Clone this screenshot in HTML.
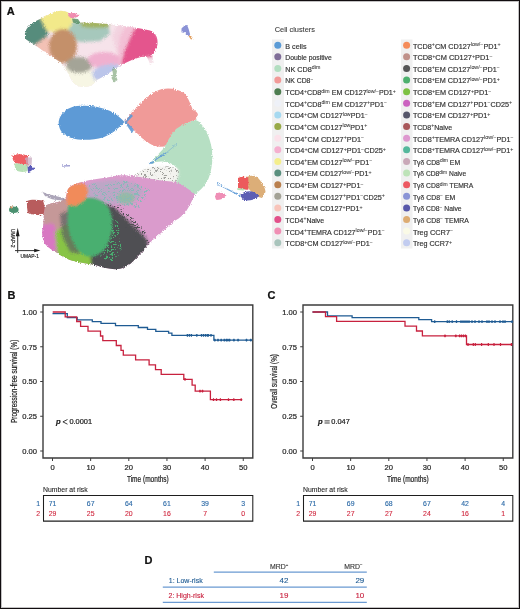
<!DOCTYPE html>
<html><head><meta charset="utf-8"><style>
html,body{margin:0;padding:0;background:#fff;}
#wrap{position:relative;width:520px;height:609px;overflow:hidden;background:#fff;}
#frame{position:absolute;left:0;top:0;width:520px;height:609px;box-sizing:border-box;border:1px solid #110d0f;box-shadow:inset 0 0 0 1px rgba(17,13,15,0.25);pointer-events:none;}
svg{position:absolute;left:0;top:0;font-family:"Liberation Sans", sans-serif;will-change:transform;}
</style></head><body><div id="wrap">
<svg width="520" height="609" viewBox="0 0 520 609">
<defs>
<filter id="bl3" x="-20%" y="-20%" width="140%" height="140%"><feGaussianBlur stdDeviation="3"/></filter>
<filter id="bl15" x="-20%" y="-20%" width="140%" height="140%"><feGaussianBlur stdDeviation="1.6"/></filter>
<filter id="bl1" x="-20%" y="-20%" width="140%" height="140%"><feGaussianBlur stdDeviation="1"/></filter>
<filter id="grain" x="0" y="0" width="100%" height="100%" filterUnits="userSpaceOnUse"><feTurbulence type="fractalNoise" baseFrequency="0.9" numOctaves="1" seed="3" result="n"/><feDisplacementMap in="SourceGraphic" in2="n" scale="3.5" xChannelSelector="R" yChannelSelector="G"/></filter>
<filter id="speck" x="-10%" y="-10%" width="120%" height="120%"><feTurbulence type="fractalNoise" baseFrequency="1.7" numOctaves="1" seed="11" result="n"/><feColorMatrix in="n" type="matrix" values="0 0 0 0 0  0 0 0 0 0  0 0 0 0 0  0 0 0 -16 7.0" result="m"/><feComposite in="SourceGraphic" in2="m" operator="in"/></filter>
<filter id="bl05" x="-20%" y="-20%" width="140%" height="140%"><feGaussianBlur stdDeviation="0.4"/></filter>
</defs>
<g filter="url(#grain)"><clipPath id="c1"><path d="M25,36 C24,30 30,23 40,19 L52,13 C58,10 64,10 69,13 L73,17 L80,22.5 C90,22.5 100,23 110,24.3 C122,25.5 138,28 150,30.5 C156,32.5 158,38 157.5,44 C157,49 155,52 152,54 L153.5,62 L150,64 L147,57 L141,57 C130,60 120,65 112,71 C106,75 101,78 97,80 C94,84 90,87 85,87 C79,87 75,85 72,81 C69,76 67,70 63,65 C58,60 52,57 45,52 C38,47 30,42 27,40 C25,39 25,38 25,36 Z"/></clipPath><g clip-path="url(#c1)"><rect x="20" y="5" width="145" height="90" fill="#f6e3ea"/><g filter="url(#bl15)"><path d="M118,24 L152,28 L160,40 L156,56 L140,60 L124,62 L116,50 L112,36Z" fill="#f3d3e0"/><path d="M120,36 L126,26 L134,26 L150,28 L160,40 L157,56 L142,58 L130,63 L116,68 L118,54Z" fill="#f3c0d5"/><path d="M136,26 L152,28 L160,40 L157,56 L142,58 L128,64 L121,66 L124,52 L130,38Z" fill="#e4558d"/><path d="M68,27 L75,21 L108,24 L110,34 L100,41 L80,42 L70,37Z" fill="#a6c8bc"/><path d="M80,21 L110,22 L108,27.5 L92,28 L82,27Z" fill="#a2b35e"/><path d="M20,36 L24,24 L34,17 L42,16 L47,24 L48,34 L45,42 L38,46 L24,42Z" fill="#568c7c"/><path d="M40,17 L52,10 L64,8 L72,12 L73,22 L68,30 L56,32 L47,31 L43,24Z" fill="#f2e98a"/><path d="M35,45 L46,37 L54,42 L56,55 L53,63 L42,57Z" fill="#f3c1b5"/><ellipse cx="63" cy="46" rx="14" ry="17" fill="#c4906a"/><path d="M60,66 L75,69 L96,71 L100,80 L92,90 L80,90 L70,84 L62,74Z" fill="#f7f6e4"/><ellipse cx="79" cy="65" rx="13" ry="8" fill="#a4a497"/><ellipse cx="104" cy="60" rx="16" ry="8" fill="#f0b0cf"/><path d="M92,72 L100,66 L112,64 L120,65 L118,72 L104,80 L94,80Z" fill="#bbc5ea"/></g></g><path d="M68,14 C71,12 76,13 80,15 C79,17 75,18 71,18 C69,17 68,16 68,14 Z" fill="#f08cb0" filter="url(#bl05)"/><path d="M72,18.5 L78,19 L80,22 L78,24 L73,22.5Z" fill="#4e8a5a" opacity="0.75" filter="url(#bl05)"/><path d="M112,69 L115,67.5 L117,71 L116,76 L117.5,80 L114,82.5 L111.5,78 L113,74Z" fill="#6f9a6a" opacity="0.6" filter="url(#bl05)"/><path d="M181.5,28.5 C183,27 185,25 186.5,25 C188,26 189,30 190.2,34.6 L188.8,36.2 C187,35 186,33 185,33 C183,32.5 182,33 181.5,32.3 Z" fill="#8a92d6" filter="url(#bl05)"/><path d="M189.3,35 L192.5,39 L191,39.5 L188.8,36.5Z" fill="#e2a060" filter="url(#bl05)"/><path d="M58.7,121.5 C60,113 68,107 77,106 C87,105 97,106 105,109 C112,111 119,116 124.5,122 C119,128 112,134 103,137.5 C95,140 85,140 78,139.5 C70,138.5 64,135 61,131 C59,128 58.5,124 58.7,121.5 Z" fill="#5d9ad6" filter="url(#bl05)"/><path d="M124.5,122 C128,116 134,110 140,104 C147,97 154,91 162,89 C170,87.5 178,89 184,93 C188,97 190,103 192.5,109 C195,111 198,112 198,115.5 C197.5,118 195,120 192,121 C185,124 180,127 176,131 C172,136 170,141 168,145.7 C163,147 158,147 154,146 C148,143 142,139 138,134 C134,130 130,127 124.5,122 Z" fill="#f09a98" filter="url(#bl05)"/><path d="M124.5,122 L131,114 L133,116 L127,122 L134,130 L132,133 Z" fill="#5d9ad6" opacity="0.9" filter="url(#bl05)"/><path d="M192,121 C196,119 199,121 202,125 C207,131 210.5,140 212,150 C213,160 212,170 208,180 C204,187 199,192 193,195.5 C188,198 183,198 180,195 C176,191 172,186 170,181 C172,176 176,172 178,170 C176,166 172,163 166,162 C160,161 155,162 150,163.5 C155,158 160,152 165,147 C168,140 172,133 176,129 C182,125 187,123 192,121 Z" fill="#b6dfc3" filter="url(#bl05)"/><path d="M150,163.5 L158,158 L166,153" stroke="#5d9ad6" stroke-width="1.2" fill="none" opacity="0.9"/><path d="M166,153 L172,148 L178,143" stroke="#5d9ad6" stroke-width="0.8" fill="none" opacity="0.5"/><path d="M134,177 C138,172 146,168 155,166.5 C163,165.5 171,166 178,169 C180,174 178,180 174,184 C166,186 156,185.5 148,183.5 C141,182 137,180 134,177 Z" fill="#f3f3ef" filter="url(#bl1)"/><path d="M134,177 C138,172 146,168 155,166.5 C163,165.5 171,166 178,169 C180,174 178,180 174,184 C166,186 156,185.5 148,183.5 C141,182 137,180 134,177 Z" fill="#a0a09c" filter="url(#speck)"/><clipPath id="c2"><path d="M68,189 C72,184 80,182 90,180 L110,177 C116,175.5 122,175 128,175.5 C134,176 140,177 146,178 C156,180 166,181 176,182 C184,186 190,190 195,194 C192,201 189,207 186,211.5 C183,215 180,218 175.7,220.2 C170,225 166,228 161.9,232.3 C156,237 152,241 148,244.4 C145,248 143,251 141,253 C137,257 134,261 130.8,263.4 C127,266 124,268 120,268.8 C112,270 104,268 97,265.5 C90,264 82,263 74.6,261.5 C67,259 61,256 57.3,252.9 C50,249 45,245 43.5,240.7 C42,236 42,231 43,227 C43.5,220 44,214 44.5,208 C46,204 52,203 58,202 C62,201 65,199 66,197 C66.5,194 67,191 68,189 Z"/></clipPath><g clip-path="url(#c2)"><rect x="38" y="170" width="160" height="105" fill="#da9bcc"/><g filter="url(#bl15)"><ellipse cx="113" cy="192" rx="30" ry="12" fill="#bda6c6"/><ellipse cx="126" cy="198" rx="9" ry="6" fill="#95baa6"/><path d="M40,198 L67,196 L70,212 L66,232 L44,232Z" fill="#c59898"/><path d="M38,226 L53,223 L60,238 L63,262 L40,262Z" fill="#d878c2"/><path d="M55,232 L66,224 L88,228 L98,250 L96,272 L64,272 L57,254Z" fill="#88c444"/><path d="M100,203 L114,207 L130,222 L146,238 L150,250 L138,266 L118,274 L92,272 L90,250 L96,226Z" fill="#505052"/><path d="M60,214 L70,210 L78,232 L80,254 L70,252 L62,236Z" fill="#5d6462" opacity="0.75"/><ellipse cx="104" cy="210" rx="5" ry="4" fill="#707072"/></g><g filter="url(#bl1)"><path d="M68,204 C70,198 80,197 92,198 C102,199 109,205 111.5,215 C114,230 110,245 101,253 C94,258 86,258 80,252 C73,245 68,234 67.5,220 Z" fill="#4aaf70"/><path d="M66,190 C68,185 74,183 80,183 C85,183 88,187 88,192 L85,200 L76,206 L67,205 Z" fill="#f18b5a"/></g><path d="M104,212 L118,222 L122,250 L112,262 L100,258 L106,240Z" fill="#4aaf70" filter="url(#speck)"/><path d="M104,200 L120,206 L146,232 L150,244 L140,240 L120,222Z" fill="#505052" filter="url(#speck)"/><path d="M88,184 L130,180 L150,190 L140,208 L110,204 L95,196Z" fill="#88b8b8" filter="url(#speck)"/></g><path d="M27,201 C30,199.5 36,199.5 43,200.5 L45,207 L43.5,215 C38,215.5 32,214.5 28,213.5 C27,209 26.8,205 27,201 Z" fill="#b85b5d" filter="url(#bl05)"/><path d="M42.5,192 C48,194 55,196 62,197.5 L66,200 C58,201 50,199.5 45,196 Z" fill="#9890a8" opacity="0.8" filter="url(#bl05)"/><ellipse cx="13.8" cy="209.8" rx="4.8" ry="3.3" fill="#4c9170" filter="url(#bl05)"/><ellipse cx="12" cy="207.5" rx="1.6" ry="1" fill="#e89060"/><path d="M12.3,155.5 C15,154 20,154 24,154.5 L28,156 L28,165 C24,164 19,163.5 14.6,163.5 C13,160 12.3,158 12.3,155.5Z" fill="#ef5f63" filter="url(#bl05)"/><path d="M14.6,163.5 C19,163.5 24,164 28,165 L27.5,171 C24,172.5 19,172 16,170.5 C15,168 14.6,166 14.6,163.5Z" fill="#b7e0b5" filter="url(#bl05)"/><path d="M25.8,157.3 L32,157.5 L31.5,165.5 L28,166 L26,163Z" fill="#c8aac0" opacity="0.75" filter="url(#bl05)"/><path d="M27.5,166.5 L30.5,165.8 L32.5,167.6 L36.5,168.3 L33,169.4 L30,171.6 L28,172Z" fill="#5a5ab8" filter="url(#bl05)"/><path d="M62,166 L70,165.8" stroke="#5555b0" stroke-width="0.8"/><path d="M215.5,195 C216.5,192.5 220,192 222,193 C224.5,192.5 226,194.5 225,196.5 C223,199 220,200 216.5,200 C215.2,198.5 215,197 215.5,195Z" fill="#ef8fb6" filter="url(#bl05)"/><path d="M217,183.5 L228,189.5 L240.8,196.1" stroke="#5d9ad6" stroke-width="1.2" fill="none" opacity="0.9"/><path d="M246.5,177 C250,175.5 255,175 257,177 C261,181 265,186 265.5,192 L262,198 L255,196 L248,188 Z" fill="#dcae78" filter="url(#bl05)"/><path d="M238,178 C241,176.5 245,176.5 248.3,177.5 L248.3,189.8 L243,189.5 L238,188 Z" fill="#ec5a5c" filter="url(#bl05)"/><path d="M240.8,194 C245,191 250,190.5 254,192 L259.2,196 C256,199.5 250,201 245,200.5 C242,199.5 240.8,197 240.8,194Z" fill="#5d5fb4" filter="url(#bl05)"/><path d="M237.3,188 L244.2,189 L244,190.5 L237.3,190Z" fill="#b7e0b5"/></g><g stroke="#2a2a2a" stroke-width="0.95" fill="none"><path d="M17.7,252.9 L17.7,233"/><path d="M15,250.6 L36,250.6"/></g><path d="M17.7,227.8 L15.8,236.3 L19.6,236.3Z" fill="#1a1a1a"/><path d="M40.4,250.6 L34.2,248.85 L34.2,252.35Z" fill="#1a1a1a"/><text x="0" y="0" transform="translate(10.8,228.9) rotate(90)" font-size="5.1" fill="#333" textLength="18.6" lengthAdjust="spacingAndGlyphs" stroke="#333" stroke-width="0.22">UMAP-2</text><text x="20.6" y="257.9" font-size="5.1" fill="#333" textLength="18.3" lengthAdjust="spacingAndGlyphs" stroke="#333" stroke-width="0.22">UMAP-1</text><text x="274.7" y="31.9" font-size="7.4" fill="#3a3a3a" stroke="#3a3a3a" stroke-width="0.1">Cell clusters</text><rect x="272" y="39.5" width="12" height="209" fill="#f0f0f0"/><rect x="401" y="39.5" width="11.5" height="209" fill="#f0f0f0"/><circle cx="277.8" cy="45.20" r="3.5" fill="#5b9bd6"/><text id="a0" x="285.3" y="48.60" font-size="6.85" fill="#333" stroke="#333" stroke-width="0.17" textLength="21.20" lengthAdjust="spacingAndGlyphs">B cells</text><circle cx="277.8" cy="56.82" r="3.5" fill="#806e98"/><text id="a1" x="285.3" y="60.22" font-size="6.85" fill="#333" stroke="#333" stroke-width="0.17" textLength="46.40" lengthAdjust="spacingAndGlyphs">Double positive</text><circle cx="277.8" cy="68.44" r="3.5" fill="#b2dec0"/><text id="a2" x="285.3" y="71.84" font-size="6.85" fill="#333" stroke="#333" stroke-width="0.17" textLength="35.01" lengthAdjust="spacingAndGlyphs">NK CD8<tspan dy="-2.50" font-size="5.00" stroke-width="0.05">dim</tspan></text><circle cx="277.8" cy="80.06" r="3.5" fill="#f29a98"/><text id="a3" x="285.3" y="83.46" font-size="6.85" fill="#333" stroke="#333" stroke-width="0.17" textLength="28.03" lengthAdjust="spacingAndGlyphs">NK CD8<tspan dy="-2.50" font-size="5.00" stroke-width="0.05">−</tspan></text><circle cx="277.8" cy="91.68" r="3.5" fill="#4e7d50"/><text id="a4" x="285.3" y="95.08" font-size="6.85" fill="#333" stroke="#333" stroke-width="0.17" textLength="110.60" lengthAdjust="spacingAndGlyphs">TCD4<tspan dy="-2.50" font-size="5.00" stroke-width="0.05">+</tspan><tspan dy="2.50">CD8</tspan><tspan dy="-2.50" font-size="5.00" stroke-width="0.05">dim</tspan><tspan dy="2.50"> EM CD127</tspan><tspan dy="-2.50" font-size="5.00" stroke-width="0.05">low/−</tspan><tspan dy="2.50">PD1</tspan><tspan dy="-2.50" font-size="5.00" stroke-width="0.05">+</tspan></text><circle cx="277.8" cy="103.30" r="3.5" fill="#eef1f8"/><text id="a5" x="285.3" y="106.70" font-size="6.85" fill="#333" stroke="#333" stroke-width="0.17" textLength="101.71" lengthAdjust="spacingAndGlyphs">TCD4<tspan dy="-2.50" font-size="5.00" stroke-width="0.05">+</tspan><tspan dy="2.50">CD8</tspan><tspan dy="-2.50" font-size="5.00" stroke-width="0.05">dim</tspan><tspan dy="2.50"> EM CD127</tspan><tspan dy="-2.50" font-size="5.00" stroke-width="0.05">+</tspan><tspan dy="2.50">PD1</tspan><tspan dy="-2.50" font-size="5.00" stroke-width="0.05">−</tspan></text><circle cx="277.8" cy="114.92" r="3.5" fill="#a6d9f0"/><text id="a6" x="285.3" y="118.32" font-size="6.85" fill="#333" stroke="#333" stroke-width="0.17" textLength="82.44" lengthAdjust="spacingAndGlyphs">TCD4<tspan dy="-2.50" font-size="5.00" stroke-width="0.05">+</tspan><tspan dy="2.50">CM CD127</tspan><tspan dy="-2.50" font-size="5.00" stroke-width="0.05">low</tspan><tspan dy="2.50">PD1</tspan><tspan dy="-2.50" font-size="5.00" stroke-width="0.05">−</tspan></text><circle cx="277.8" cy="126.54" r="3.5" fill="#98aa48"/><text id="a7" x="285.3" y="129.94" font-size="6.85" fill="#333" stroke="#333" stroke-width="0.17" textLength="82.05" lengthAdjust="spacingAndGlyphs">TCD4<tspan dy="-2.50" font-size="5.00" stroke-width="0.05">+</tspan><tspan dy="2.50">CM CD127</tspan><tspan dy="-2.50" font-size="5.00" stroke-width="0.05">low</tspan><tspan dy="2.50">PD1</tspan><tspan dy="-2.50" font-size="5.00" stroke-width="0.05">+</tspan></text><circle cx="277.8" cy="138.16" r="3.5" fill="#fbe2ea"/><text id="a8" x="285.3" y="141.56" font-size="6.85" fill="#333" stroke="#333" stroke-width="0.17" textLength="78.83" lengthAdjust="spacingAndGlyphs">TCD4<tspan dy="-2.50" font-size="5.00" stroke-width="0.05">+</tspan><tspan dy="2.50">CM CD127</tspan><tspan dy="-2.50" font-size="5.00" stroke-width="0.05">+</tspan><tspan dy="2.50">PD1</tspan><tspan dy="-2.50" font-size="5.00" stroke-width="0.05">−</tspan></text><circle cx="277.8" cy="149.78" r="3.5" fill="#f5b0cf"/><text id="a9" x="285.3" y="153.18" font-size="6.85" fill="#333" stroke="#333" stroke-width="0.17" textLength="100.67" lengthAdjust="spacingAndGlyphs">TCD4<tspan dy="-2.50" font-size="5.00" stroke-width="0.05">+</tspan><tspan dy="2.50">CM CD127</tspan><tspan dy="-2.50" font-size="5.00" stroke-width="0.05">+</tspan><tspan dy="2.50">PD1</tspan><tspan dy="-2.50" font-size="5.00" stroke-width="0.05">−</tspan><tspan dy="2.50">CD25</tspan><tspan dy="-2.50" font-size="5.00" stroke-width="0.05">+</tspan></text><circle cx="277.8" cy="161.40" r="3.5" fill="#f4ee8c"/><text id="a10" x="285.3" y="164.80" font-size="6.85" fill="#333" stroke="#333" stroke-width="0.17" textLength="86.96" lengthAdjust="spacingAndGlyphs">TCD4<tspan dy="-2.50" font-size="5.00" stroke-width="0.05">+</tspan><tspan dy="2.50">EM CD127</tspan><tspan dy="-2.50" font-size="5.00" stroke-width="0.05">low/−</tspan><tspan dy="2.50">PD1</tspan><tspan dy="-2.50" font-size="5.00" stroke-width="0.05">−</tspan></text><circle cx="277.8" cy="173.02" r="3.5" fill="#5a8f7e"/><text id="a11" x="285.3" y="176.42" font-size="6.85" fill="#333" stroke="#333" stroke-width="0.17" textLength="86.16" lengthAdjust="spacingAndGlyphs">TCD4<tspan dy="-2.50" font-size="5.00" stroke-width="0.05">+</tspan><tspan dy="2.50">EM CD127</tspan><tspan dy="-2.50" font-size="5.00" stroke-width="0.05">low/−</tspan><tspan dy="2.50">PD1</tspan><tspan dy="-2.50" font-size="5.00" stroke-width="0.05">+</tspan></text><circle cx="277.8" cy="184.64" r="3.5" fill="#b9804f"/><text id="a12" x="285.3" y="188.04" font-size="6.85" fill="#333" stroke="#333" stroke-width="0.17" textLength="78.28" lengthAdjust="spacingAndGlyphs">TCD4<tspan dy="-2.50" font-size="5.00" stroke-width="0.05">+</tspan><tspan dy="2.50">EM CD127</tspan><tspan dy="-2.50" font-size="5.00" stroke-width="0.05">+</tspan><tspan dy="2.50">PD1</tspan><tspan dy="-2.50" font-size="5.00" stroke-width="0.05">−</tspan></text><circle cx="277.8" cy="196.26" r="3.5" fill="#a3a296"/><text id="a13" x="285.3" y="199.66" font-size="6.85" fill="#333" stroke="#333" stroke-width="0.17" textLength="99.67" lengthAdjust="spacingAndGlyphs">TCD4<tspan dy="-2.50" font-size="5.00" stroke-width="0.05">+</tspan><tspan dy="2.50">EM CD127</tspan><tspan dy="-2.50" font-size="5.00" stroke-width="0.05">+</tspan><tspan dy="2.50">PD1</tspan><tspan dy="-2.50" font-size="5.00" stroke-width="0.05">−</tspan><tspan dy="2.50">CD25</tspan><tspan dy="-2.50" font-size="5.00" stroke-width="0.05">+</tspan></text><circle cx="277.8" cy="207.88" r="3.5" fill="#f8c4ba"/><text id="a14" x="285.3" y="211.28" font-size="6.85" fill="#333" stroke="#333" stroke-width="0.17" textLength="77.28" lengthAdjust="spacingAndGlyphs">TCD4<tspan dy="-2.50" font-size="5.00" stroke-width="0.05">+</tspan><tspan dy="2.50">EM CD127</tspan><tspan dy="-2.50" font-size="5.00" stroke-width="0.05">+</tspan><tspan dy="2.50">PD1</tspan><tspan dy="-2.50" font-size="5.00" stroke-width="0.05">+</tspan></text><circle cx="277.8" cy="219.50" r="3.5" fill="#e2508a"/><text id="a15" x="285.3" y="222.90" font-size="6.85" fill="#333" stroke="#333" stroke-width="0.17" textLength="38.92" lengthAdjust="spacingAndGlyphs">TCD4<tspan dy="-2.50" font-size="5.00" stroke-width="0.05">+</tspan><tspan dy="2.50">Naive</tspan></text><circle cx="277.8" cy="231.12" r="3.5" fill="#f08fb4"/><text id="a16" x="285.3" y="234.52" font-size="6.85" fill="#333" stroke="#333" stroke-width="0.17" textLength="99.47" lengthAdjust="spacingAndGlyphs">TCD4<tspan dy="-2.50" font-size="5.00" stroke-width="0.05">+</tspan><tspan dy="2.50">TEMRA CD127</tspan><tspan dy="-2.50" font-size="5.00" stroke-width="0.05">low/−</tspan><tspan dy="2.50">PD1</tspan><tspan dy="-2.50" font-size="5.00" stroke-width="0.05">−</tspan></text><circle cx="277.8" cy="242.74" r="3.5" fill="#a9c4bc"/><text id="a17" x="285.3" y="246.14" font-size="6.85" fill="#333" stroke="#333" stroke-width="0.17" textLength="87.57" lengthAdjust="spacingAndGlyphs">TCD8<tspan dy="-2.50" font-size="5.00" stroke-width="0.05">+</tspan><tspan dy="2.50">CM CD127</tspan><tspan dy="-2.50" font-size="5.00" stroke-width="0.05">low/−</tspan><tspan dy="2.50">PD1</tspan><tspan dy="-2.50" font-size="5.00" stroke-width="0.05">−</tspan></text><circle cx="406.6" cy="45.20" r="3.5" fill="#f58c5a"/><text id="b0" x="412.9" y="48.60" font-size="6.85" fill="#333" stroke="#333" stroke-width="0.17" textLength="87.77" lengthAdjust="spacingAndGlyphs">TCD8<tspan dy="-2.50" font-size="5.00" stroke-width="0.05">+</tspan><tspan dy="2.50">CM CD127</tspan><tspan dy="-2.50" font-size="5.00" stroke-width="0.05">low/−</tspan><tspan dy="2.50">PD1</tspan><tspan dy="-2.50" font-size="5.00" stroke-width="0.05">+</tspan></text><circle cx="406.6" cy="56.82" r="3.5" fill="#c0918a"/><text id="b1" x="412.9" y="60.22" font-size="6.85" fill="#333" stroke="#333" stroke-width="0.17" textLength="79.70" lengthAdjust="spacingAndGlyphs">TCD8<tspan dy="-2.50" font-size="5.00" stroke-width="0.05">+</tspan><tspan dy="2.50">CM CD127</tspan><tspan dy="-2.50" font-size="5.00" stroke-width="0.05">+</tspan><tspan dy="2.50">PD1</tspan><tspan dy="-2.50" font-size="5.00" stroke-width="0.05">−</tspan></text><circle cx="406.6" cy="68.44" r="3.5" fill="#555556"/><text id="b2" x="412.9" y="71.84" font-size="6.85" fill="#333" stroke="#333" stroke-width="0.17" textLength="86.96" lengthAdjust="spacingAndGlyphs">TCD8<tspan dy="-2.50" font-size="5.00" stroke-width="0.05">+</tspan><tspan dy="2.50">EM CD127</tspan><tspan dy="-2.50" font-size="5.00" stroke-width="0.05">low/−</tspan><tspan dy="2.50">PD1</tspan><tspan dy="-2.50" font-size="5.00" stroke-width="0.05">−</tspan></text><circle cx="406.6" cy="80.06" r="3.5" fill="#4db06e"/><text id="b3" x="412.9" y="83.46" font-size="6.85" fill="#333" stroke="#333" stroke-width="0.17" textLength="86.96" lengthAdjust="spacingAndGlyphs">TCD8<tspan dy="-2.50" font-size="5.00" stroke-width="0.05">+</tspan><tspan dy="2.50">EM CD127</tspan><tspan dy="-2.50" font-size="5.00" stroke-width="0.05">low/−</tspan><tspan dy="2.50">PD1</tspan><tspan dy="-2.50" font-size="5.00" stroke-width="0.05">+</tspan></text><circle cx="406.6" cy="91.68" r="3.5" fill="#7cc142"/><text id="b4" x="412.9" y="95.08" font-size="6.85" fill="#333" stroke="#333" stroke-width="0.17" textLength="78.49" lengthAdjust="spacingAndGlyphs">TCD8<tspan dy="-2.50" font-size="5.00" stroke-width="0.05">+</tspan><tspan dy="2.50">EM CD127</tspan><tspan dy="-2.50" font-size="5.00" stroke-width="0.05">+</tspan><tspan dy="2.50">PD1</tspan><tspan dy="-2.50" font-size="5.00" stroke-width="0.05">−</tspan></text><circle cx="406.6" cy="103.30" r="3.5" fill="#cb62c0"/><text id="b5" x="412.9" y="106.70" font-size="6.85" fill="#333" stroke="#333" stroke-width="0.17" textLength="99.33" lengthAdjust="spacingAndGlyphs">TCD8<tspan dy="-2.50" font-size="5.00" stroke-width="0.05">+</tspan><tspan dy="2.50">EM CD127</tspan><tspan dy="-2.50" font-size="5.00" stroke-width="0.05">+</tspan><tspan dy="2.50">PD1</tspan><tspan dy="-2.50" font-size="5.00" stroke-width="0.05">−</tspan><tspan dy="2.50">CD25</tspan><tspan dy="-2.50" font-size="5.00" stroke-width="0.05">+</tspan></text><circle cx="406.6" cy="114.92" r="3.5" fill="#56566a"/><text id="b6" x="412.9" y="118.32" font-size="6.85" fill="#333" stroke="#333" stroke-width="0.17" textLength="77.48" lengthAdjust="spacingAndGlyphs">TCD8<tspan dy="-2.50" font-size="5.00" stroke-width="0.05">+</tspan><tspan dy="2.50">EM CD127</tspan><tspan dy="-2.50" font-size="5.00" stroke-width="0.05">+</tspan><tspan dy="2.50">PD1</tspan><tspan dy="-2.50" font-size="5.00" stroke-width="0.05">+</tspan></text><circle cx="406.6" cy="126.54" r="3.5" fill="#a8575a"/><text id="b7" x="412.9" y="129.94" font-size="6.85" fill="#333" stroke="#333" stroke-width="0.17" textLength="39.31" lengthAdjust="spacingAndGlyphs">TCD8<tspan dy="-2.50" font-size="5.00" stroke-width="0.05">+</tspan><tspan dy="2.50">Naive</tspan></text><circle cx="406.6" cy="138.16" r="3.5" fill="#de98cf"/><text id="b8" x="412.9" y="141.56" font-size="6.85" fill="#333" stroke="#333" stroke-width="0.17" textLength="100.67" lengthAdjust="spacingAndGlyphs">TCD8<tspan dy="-2.50" font-size="5.00" stroke-width="0.05">+</tspan><tspan dy="2.50">TEMRA CD127</tspan><tspan dy="-2.50" font-size="5.00" stroke-width="0.05">low/−</tspan><tspan dy="2.50">PD1</tspan><tspan dy="-2.50" font-size="5.00" stroke-width="0.05">−</tspan></text><circle cx="406.6" cy="149.78" r="3.5" fill="#55b89c"/><text id="b9" x="412.9" y="153.18" font-size="6.85" fill="#333" stroke="#333" stroke-width="0.17" textLength="100.48" lengthAdjust="spacingAndGlyphs">TCD8<tspan dy="-2.50" font-size="5.00" stroke-width="0.05">+</tspan><tspan dy="2.50">TEMRA CD127</tspan><tspan dy="-2.50" font-size="5.00" stroke-width="0.05">low/−</tspan><tspan dy="2.50">PD1</tspan><tspan dy="-2.50" font-size="5.00" stroke-width="0.05">+</tspan></text><circle cx="406.6" cy="161.40" r="3.5" fill="#c9a8b8"/><text id="b10" x="412.9" y="164.80" font-size="6.85" fill="#333" stroke="#333" stroke-width="0.17" textLength="47.25" lengthAdjust="spacingAndGlyphs">Tγδ CD8<tspan dy="-2.50" font-size="5.00" stroke-width="0.05">dim</tspan><tspan dy="2.50"> EM</tspan></text><circle cx="406.6" cy="173.02" r="3.5" fill="#bde3b8"/><text id="b11" x="412.9" y="176.42" font-size="6.85" fill="#333" stroke="#333" stroke-width="0.17" textLength="53.28" lengthAdjust="spacingAndGlyphs">Tγδ CD8<tspan dy="-2.50" font-size="5.00" stroke-width="0.05">dim</tspan><tspan dy="2.50"> Naive</tspan></text><circle cx="406.6" cy="184.64" r="3.5" fill="#ec5962"/><text id="b12" x="412.9" y="188.04" font-size="6.85" fill="#333" stroke="#333" stroke-width="0.17" textLength="60.41" lengthAdjust="spacingAndGlyphs">Tγδ CD8<tspan dy="-2.50" font-size="5.00" stroke-width="0.05">dim</tspan><tspan dy="2.50"> TEMRA</tspan></text><circle cx="406.6" cy="196.26" r="3.5" fill="#8a94d6"/><text id="b13" x="412.9" y="199.66" font-size="6.85" fill="#333" stroke="#333" stroke-width="0.17" textLength="42.31" lengthAdjust="spacingAndGlyphs">Tγδ CD8<tspan dy="-2.50" font-size="5.00" stroke-width="0.05">−</tspan><tspan dy="2.50"> EM</tspan></text><circle cx="406.6" cy="207.88" r="3.5" fill="#5858aa"/><text id="b14" x="412.9" y="211.28" font-size="6.85" fill="#333" stroke="#333" stroke-width="0.17" textLength="48.74" lengthAdjust="spacingAndGlyphs">Tγδ CD8<tspan dy="-2.50" font-size="5.00" stroke-width="0.05">−</tspan><tspan dy="2.50"> Naive</tspan></text><circle cx="406.6" cy="219.50" r="3.5" fill="#ddac72"/><text id="b15" x="412.9" y="222.90" font-size="6.85" fill="#333" stroke="#333" stroke-width="0.17" textLength="55.87" lengthAdjust="spacingAndGlyphs">Tγδ CD8<tspan dy="-2.50" font-size="5.00" stroke-width="0.05">−</tspan><tspan dy="2.50"> TEMRA</tspan></text><circle cx="406.6" cy="231.12" r="3.5" fill="#fafae6"/><text id="b16" x="412.9" y="234.52" font-size="6.85" fill="#333" stroke="#333" stroke-width="0.17" textLength="40.31" lengthAdjust="spacingAndGlyphs">Treg CCR7<tspan dy="-2.50" font-size="5.00" stroke-width="0.05">−</tspan></text><circle cx="406.6" cy="242.74" r="3.5" fill="#c2ccf0"/><text id="b17" x="412.9" y="246.14" font-size="6.85" fill="#333" stroke="#333" stroke-width="0.17" textLength="39.10" lengthAdjust="spacingAndGlyphs">Treg CCR7<tspan dy="-2.50" font-size="5.00" stroke-width="0.05">+</tspan></text><text x="6.8" y="15.3" font-size="11" font-weight="bold" fill="#111" stroke="#111" stroke-width="0.22">A</text><text x="7.5" y="298.8" font-size="11" font-weight="bold" fill="#111" stroke="#111" stroke-width="0.22">B</text><text x="267.5" y="298.8" font-size="11" font-weight="bold" fill="#111" stroke="#111" stroke-width="0.22">C</text><text x="144.5" y="563.8" font-size="11" font-weight="bold" fill="#111" stroke="#111" stroke-width="0.22">D</text><path d="M43,305 H252.8 V458.0 H43 Z" fill="none" stroke="#3d3d3d" stroke-width="1.4"/><path d="M40.2,451.0 L43,451.0" stroke="#3d3d3d" stroke-width="1"/><text x="37.0" y="453.90" font-size="7.6" fill="#2a2a2a" text-anchor="end" stroke="#2a2a2a" stroke-width="0.22">0.00</text><path d="M40.2,416.25 L43,416.25" stroke="#3d3d3d" stroke-width="1"/><text x="37.0" y="419.15" font-size="7.6" fill="#2a2a2a" text-anchor="end" stroke="#2a2a2a" stroke-width="0.22">0.25</text><path d="M40.2,381.5 L43,381.5" stroke="#3d3d3d" stroke-width="1"/><text x="37.0" y="384.40" font-size="7.6" fill="#2a2a2a" text-anchor="end" stroke="#2a2a2a" stroke-width="0.22">0.50</text><path d="M40.2,346.75 L43,346.75" stroke="#3d3d3d" stroke-width="1"/><text x="37.0" y="349.65" font-size="7.6" fill="#2a2a2a" text-anchor="end" stroke="#2a2a2a" stroke-width="0.22">0.75</text><path d="M40.2,312.0 L43,312.0" stroke="#3d3d3d" stroke-width="1"/><text x="37.0" y="314.90" font-size="7.6" fill="#2a2a2a" text-anchor="end" stroke="#2a2a2a" stroke-width="0.22">1.00</text><path d="M52.50,458.0 L52.50,461.0" stroke="#3d3d3d" stroke-width="1"/><text x="52.50" y="469.6" font-size="7.6" fill="#2a2a2a" text-anchor="middle" stroke="#2a2a2a" stroke-width="0.22">0</text><path d="M90.65,458.0 L90.65,461.0" stroke="#3d3d3d" stroke-width="1"/><text x="90.65" y="469.6" font-size="7.6" fill="#2a2a2a" text-anchor="middle" stroke="#2a2a2a" stroke-width="0.22">10</text><path d="M128.80,458.0 L128.80,461.0" stroke="#3d3d3d" stroke-width="1"/><text x="128.80" y="469.6" font-size="7.6" fill="#2a2a2a" text-anchor="middle" stroke="#2a2a2a" stroke-width="0.22">20</text><path d="M166.95,458.0 L166.95,461.0" stroke="#3d3d3d" stroke-width="1"/><text x="166.95" y="469.6" font-size="7.6" fill="#2a2a2a" text-anchor="middle" stroke="#2a2a2a" stroke-width="0.22">30</text><path d="M205.10,458.0 L205.10,461.0" stroke="#3d3d3d" stroke-width="1"/><text x="205.10" y="469.6" font-size="7.6" fill="#2a2a2a" text-anchor="middle" stroke="#2a2a2a" stroke-width="0.22">40</text><path d="M243.25,458.0 L243.25,461.0" stroke="#3d3d3d" stroke-width="1"/><text x="243.25" y="469.6" font-size="7.6" fill="#2a2a2a" text-anchor="middle" stroke="#2a2a2a" stroke-width="0.22">50</text><text x="147.85" y="482.4" font-size="8.7" fill="#1e1e1e" text-anchor="middle" textLength="41.9" lengthAdjust="spacingAndGlyphs" stroke="#1e1e1e" stroke-width="0.22">Time (months)</text><text x="0" y="0" font-size="9.0" fill="#1e1e1e" text-anchor="middle" transform="translate(16.9,381.4) rotate(-90)" textLength="83.4" lengthAdjust="spacingAndGlyphs" stroke="#1e1e1e" stroke-width="0.22">Progression-free survival (%)</text><text x="56.0" y="423.5" font-size="7.6" fill="#1e1e1e" font-weight="bold" font-style="italic" stroke="#1e1e1e" stroke-width="0.22">p</text><path d="M67.5,419.5 L62.9,421.85 L67.5,424.2" fill="none" stroke="#1e1e1e" stroke-width="0.85"/><text x="69.4" y="423.5" font-size="7.4" fill="#1e1e1e" stroke="#1e1e1e" stroke-width="0.22">0.0001</text><path d="M52.5,313.6 H67.3 V317.6 H77.2 V319.8 H92.3 V321.7 H101 V323.4 H115.5 V325.6 H138.3 V327.5 H147.5 V329.4 H155.8 V331.3 H168.6 V333.1 H171.9 V335.4 H213.9 V340.2 H252.2 V340.2" fill="none" stroke="#1f5b93" stroke-width="1.3" stroke-linejoin="miter"/><path d="M187.4,334.0 V336.79999999999995 M186.3,335.4 H188.5" stroke="#1f5b93" stroke-width="1.2"/><path d="M189.4,334.0 V336.79999999999995 M188.3,335.4 H190.5" stroke="#1f5b93" stroke-width="1.2"/><path d="M191.4,334.0 V336.79999999999995 M190.3,335.4 H192.5" stroke="#1f5b93" stroke-width="1.2"/><path d="M196.8,334.0 V336.79999999999995 M195.70000000000002,335.4 H197.9" stroke="#1f5b93" stroke-width="1.2"/><path d="M201.5,334.0 V336.79999999999995 M200.4,335.4 H202.6" stroke="#1f5b93" stroke-width="1.2"/><path d="M203.5,334.0 V336.79999999999995 M202.4,335.4 H204.6" stroke="#1f5b93" stroke-width="1.2"/><path d="M205.5,334.0 V336.79999999999995 M204.4,335.4 H206.6" stroke="#1f5b93" stroke-width="1.2"/><path d="M207.3,334.0 V336.79999999999995 M206.20000000000002,335.4 H208.4" stroke="#1f5b93" stroke-width="1.2"/><path d="M208.3,334.0 V336.79999999999995 M207.20000000000002,335.4 H209.4" stroke="#1f5b93" stroke-width="1.2"/><path d="M211,334.0 V336.79999999999995 M209.9,335.4 H212.1" stroke="#1f5b93" stroke-width="1.2"/><path d="M214.8,338.8 V341.59999999999997 M213.70000000000002,340.2 H215.9" stroke="#1f5b93" stroke-width="1.2"/><path d="M218,338.8 V341.59999999999997 M216.9,340.2 H219.1" stroke="#1f5b93" stroke-width="1.2"/><path d="M221.2,338.8 V341.59999999999997 M220.1,340.2 H222.29999999999998" stroke="#1f5b93" stroke-width="1.2"/><path d="M224.3,338.8 V341.59999999999997 M223.20000000000002,340.2 H225.4" stroke="#1f5b93" stroke-width="1.2"/><path d="M226.4,338.8 V341.59999999999997 M225.3,340.2 H227.5" stroke="#1f5b93" stroke-width="1.2"/><path d="M227.9,338.8 V341.59999999999997 M226.8,340.2 H229.0" stroke="#1f5b93" stroke-width="1.2"/><path d="M229.6,338.8 V341.59999999999997 M228.5,340.2 H230.7" stroke="#1f5b93" stroke-width="1.2"/><path d="M233.9,338.8 V341.59999999999997 M232.8,340.2 H235.0" stroke="#1f5b93" stroke-width="1.2"/><path d="M238.1,338.8 V341.59999999999997 M237.0,340.2 H239.2" stroke="#1f5b93" stroke-width="1.2"/><path d="M246.5,338.8 V341.59999999999997 M245.4,340.2 H247.6" stroke="#1f5b93" stroke-width="1.2"/><path d="M250.8,338.8 V341.59999999999997 M249.70000000000002,340.2 H251.9" stroke="#1f5b93" stroke-width="1.2"/><path d="M52.7,312.0 H65.2 V316.8 H76.7 V321.5 H80.6 V326.4 H88 V331.1 H100.5 V336.0 H102.8 V340.7 H116.3 V345.5 H121 V350.3 H123.3 V355.1 H135.6 V359.9 H149.1 V364.8 H155.5 V369.6 H161.2 V374.4 H183.8 V379.4 H192.1 V385.2 H195.2 V391.2 H210.4 V399.7 H241.9 V399.7" fill="none" stroke="#c8213e" stroke-width="1.3" stroke-linejoin="miter"/><path d="M185,378.0 V380.79999999999995 M183.9,379.4 H186.1" stroke="#c8213e" stroke-width="1.2"/><path d="M200,389.8 V392.59999999999997 M198.9,391.2 H201.1" stroke="#c8213e" stroke-width="1.2"/><path d="M202.5,389.8 V392.59999999999997 M201.4,391.2 H203.6" stroke="#c8213e" stroke-width="1.2"/><path d="M213.5,398.3 V401.09999999999997 M212.4,399.7 H214.6" stroke="#c8213e" stroke-width="1.2"/><path d="M216.5,398.3 V401.09999999999997 M215.4,399.7 H217.6" stroke="#c8213e" stroke-width="1.2"/><path d="M220.4,398.3 V401.09999999999997 M219.3,399.7 H221.5" stroke="#c8213e" stroke-width="1.2"/><path d="M228.5,398.3 V401.09999999999997 M227.4,399.7 H229.6" stroke="#c8213e" stroke-width="1.2"/><path d="M233.8,398.3 V401.09999999999997 M232.70000000000002,399.7 H234.9" stroke="#c8213e" stroke-width="1.2"/><path d="M241.2,398.3 V401.09999999999997 M240.1,399.7 H242.29999999999998" stroke="#c8213e" stroke-width="1.2"/><text x="43.1" y="491.5" font-size="6.85" fill="#1e1e1e" stroke="#1e1e1e" stroke-width="0.1">Number at risk</text><path d="M43.5,495.5 H252.8 V521.1 H43.5 Z" fill="none" stroke="#1e1e1e" stroke-width="1.05"/><text x="38.1" y="505.8" font-size="6.9" fill="#2a68a6" text-anchor="middle" stroke="#2a68a6" stroke-width="0.12">1</text><text x="38.1" y="516.3" font-size="6.9" fill="#d02a40" text-anchor="middle" stroke="#d02a40" stroke-width="0.12">2</text><text x="52.50" y="505.8" font-size="6.9" fill="#2a68a6" text-anchor="middle" stroke="#2a68a6" stroke-width="0.12">71</text><text x="52.50" y="516.3" font-size="6.9" fill="#d02a40" text-anchor="middle" stroke="#d02a40" stroke-width="0.12">29</text><text x="90.65" y="505.8" font-size="6.9" fill="#2a68a6" text-anchor="middle" stroke="#2a68a6" stroke-width="0.12">67</text><text x="90.65" y="516.3" font-size="6.9" fill="#d02a40" text-anchor="middle" stroke="#d02a40" stroke-width="0.12">25</text><text x="128.80" y="505.8" font-size="6.9" fill="#2a68a6" text-anchor="middle" stroke="#2a68a6" stroke-width="0.12">64</text><text x="128.80" y="516.3" font-size="6.9" fill="#d02a40" text-anchor="middle" stroke="#d02a40" stroke-width="0.12">20</text><text x="166.95" y="505.8" font-size="6.9" fill="#2a68a6" text-anchor="middle" stroke="#2a68a6" stroke-width="0.12">61</text><text x="166.95" y="516.3" font-size="6.9" fill="#d02a40" text-anchor="middle" stroke="#d02a40" stroke-width="0.12">16</text><text x="205.10" y="505.8" font-size="6.9" fill="#2a68a6" text-anchor="middle" stroke="#2a68a6" stroke-width="0.12">39</text><text x="205.10" y="516.3" font-size="6.9" fill="#d02a40" text-anchor="middle" stroke="#d02a40" stroke-width="0.12">7</text><text x="243.25" y="505.8" font-size="6.9" fill="#2a68a6" text-anchor="middle" stroke="#2a68a6" stroke-width="0.12">3</text><text x="243.25" y="516.3" font-size="6.9" fill="#d02a40" text-anchor="middle" stroke="#d02a40" stroke-width="0.12">0</text><path d="M303,305 H512.8 V458.0 H303 Z" fill="none" stroke="#3d3d3d" stroke-width="1.4"/><path d="M300.2,451.0 L303,451.0" stroke="#3d3d3d" stroke-width="1"/><text x="297.0" y="453.90" font-size="7.6" fill="#2a2a2a" text-anchor="end" stroke="#2a2a2a" stroke-width="0.22">0.00</text><path d="M300.2,416.25 L303,416.25" stroke="#3d3d3d" stroke-width="1"/><text x="297.0" y="419.15" font-size="7.6" fill="#2a2a2a" text-anchor="end" stroke="#2a2a2a" stroke-width="0.22">0.25</text><path d="M300.2,381.5 L303,381.5" stroke="#3d3d3d" stroke-width="1"/><text x="297.0" y="384.40" font-size="7.6" fill="#2a2a2a" text-anchor="end" stroke="#2a2a2a" stroke-width="0.22">0.50</text><path d="M300.2,346.75 L303,346.75" stroke="#3d3d3d" stroke-width="1"/><text x="297.0" y="349.65" font-size="7.6" fill="#2a2a2a" text-anchor="end" stroke="#2a2a2a" stroke-width="0.22">0.75</text><path d="M300.2,312.0 L303,312.0" stroke="#3d3d3d" stroke-width="1"/><text x="297.0" y="314.90" font-size="7.6" fill="#2a2a2a" text-anchor="end" stroke="#2a2a2a" stroke-width="0.22">1.00</text><path d="M312.50,458.0 L312.50,461.0" stroke="#3d3d3d" stroke-width="1"/><text x="312.50" y="469.6" font-size="7.6" fill="#2a2a2a" text-anchor="middle" stroke="#2a2a2a" stroke-width="0.22">0</text><path d="M350.65,458.0 L350.65,461.0" stroke="#3d3d3d" stroke-width="1"/><text x="350.65" y="469.6" font-size="7.6" fill="#2a2a2a" text-anchor="middle" stroke="#2a2a2a" stroke-width="0.22">10</text><path d="M388.80,458.0 L388.80,461.0" stroke="#3d3d3d" stroke-width="1"/><text x="388.80" y="469.6" font-size="7.6" fill="#2a2a2a" text-anchor="middle" stroke="#2a2a2a" stroke-width="0.22">20</text><path d="M426.95,458.0 L426.95,461.0" stroke="#3d3d3d" stroke-width="1"/><text x="426.95" y="469.6" font-size="7.6" fill="#2a2a2a" text-anchor="middle" stroke="#2a2a2a" stroke-width="0.22">30</text><path d="M465.10,458.0 L465.10,461.0" stroke="#3d3d3d" stroke-width="1"/><text x="465.10" y="469.6" font-size="7.6" fill="#2a2a2a" text-anchor="middle" stroke="#2a2a2a" stroke-width="0.22">40</text><path d="M503.25,458.0 L503.25,461.0" stroke="#3d3d3d" stroke-width="1"/><text x="503.25" y="469.6" font-size="7.6" fill="#2a2a2a" text-anchor="middle" stroke="#2a2a2a" stroke-width="0.22">50</text><text x="407.85" y="482.4" font-size="8.7" fill="#1e1e1e" text-anchor="middle" textLength="41.9" lengthAdjust="spacingAndGlyphs" stroke="#1e1e1e" stroke-width="0.22">Time (months)</text><text x="0" y="0" font-size="9.0" fill="#1e1e1e" text-anchor="middle" transform="translate(276.9,381.4) rotate(-90)" textLength="54.5" lengthAdjust="spacingAndGlyphs" stroke="#1e1e1e" stroke-width="0.22">Overall survival (%)</text><text x="317.9" y="423.5" font-size="7.6" fill="#1e1e1e" font-weight="bold" font-style="italic" stroke="#1e1e1e" stroke-width="0.22">p</text><path d="M324.5,420.9 H329.7 M324.5,423.0 H329.7" fill="none" stroke="#1e1e1e" stroke-width="0.85"/><text x="331.3" y="423.5" font-size="7.4" fill="#1e1e1e" stroke="#1e1e1e" stroke-width="0.22">0.047</text><path d="M312.5,312.0 H327.5 V315.9 H352.1 V317.7 H418.8 V319.6 H431.6 V321.6 H512.4 V321.6" fill="none" stroke="#1f5b93" stroke-width="1.3" stroke-linejoin="miter"/><path d="M434.7,320.20000000000005 V323.0 M433.59999999999997,321.6 H435.8" stroke="#1f5b93" stroke-width="1.2"/><path d="M447.3,320.20000000000005 V323.0 M446.2,321.6 H448.40000000000003" stroke="#1f5b93" stroke-width="1.2"/><path d="M449.2,320.20000000000005 V323.0 M448.09999999999997,321.6 H450.3" stroke="#1f5b93" stroke-width="1.2"/><path d="M452.2,320.20000000000005 V323.0 M451.09999999999997,321.6 H453.3" stroke="#1f5b93" stroke-width="1.2"/><path d="M456.5,320.20000000000005 V323.0 M455.4,321.6 H457.6" stroke="#1f5b93" stroke-width="1.2"/><path d="M461,320.20000000000005 V323.0 M459.9,321.6 H462.1" stroke="#1f5b93" stroke-width="1.2"/><path d="M463,320.20000000000005 V323.0 M461.9,321.6 H464.1" stroke="#1f5b93" stroke-width="1.2"/><path d="M465,320.20000000000005 V323.0 M463.9,321.6 H466.1" stroke="#1f5b93" stroke-width="1.2"/><path d="M467,320.20000000000005 V323.0 M465.9,321.6 H468.1" stroke="#1f5b93" stroke-width="1.2"/><path d="M469,320.20000000000005 V323.0 M467.9,321.6 H470.1" stroke="#1f5b93" stroke-width="1.2"/><path d="M472,320.20000000000005 V323.0 M470.9,321.6 H473.1" stroke="#1f5b93" stroke-width="1.2"/><path d="M475,320.20000000000005 V323.0 M473.9,321.6 H476.1" stroke="#1f5b93" stroke-width="1.2"/><path d="M479,320.20000000000005 V323.0 M477.9,321.6 H480.1" stroke="#1f5b93" stroke-width="1.2"/><path d="M482,320.20000000000005 V323.0 M480.9,321.6 H483.1" stroke="#1f5b93" stroke-width="1.2"/><path d="M487,320.20000000000005 V323.0 M485.9,321.6 H488.1" stroke="#1f5b93" stroke-width="1.2"/><path d="M489,320.20000000000005 V323.0 M487.9,321.6 H490.1" stroke="#1f5b93" stroke-width="1.2"/><path d="M492,320.20000000000005 V323.0 M490.9,321.6 H493.1" stroke="#1f5b93" stroke-width="1.2"/><path d="M495,320.20000000000005 V323.0 M493.9,321.6 H496.1" stroke="#1f5b93" stroke-width="1.2"/><path d="M500,320.20000000000005 V323.0 M498.9,321.6 H501.1" stroke="#1f5b93" stroke-width="1.2"/><path d="M503,320.20000000000005 V323.0 M501.9,321.6 H504.1" stroke="#1f5b93" stroke-width="1.2"/><path d="M505,320.20000000000005 V323.0 M503.9,321.6 H506.1" stroke="#1f5b93" stroke-width="1.2"/><path d="M512,320.20000000000005 V323.0 M510.9,321.6 H513.1" stroke="#1f5b93" stroke-width="1.2"/><path d="M312.5,312.0 H325.5 V316.6 H336.6 V321.3 H405 V326.1 H416.5 V331.0 H422.4 V335.9 H466.5 V344.5 H511.4 V344.5" fill="none" stroke="#c8213e" stroke-width="1.3" stroke-linejoin="miter"/><path d="M445,334.5 V337.29999999999995 M443.9,335.9 H446.1" stroke="#c8213e" stroke-width="1.2"/><path d="M455.8,334.5 V337.29999999999995 M454.7,335.9 H456.90000000000003" stroke="#c8213e" stroke-width="1.2"/><path d="M459.6,334.5 V337.29999999999995 M458.5,335.9 H460.70000000000005" stroke="#c8213e" stroke-width="1.2"/><path d="M461.5,334.5 V337.29999999999995 M460.4,335.9 H462.6" stroke="#c8213e" stroke-width="1.2"/><path d="M463.5,334.5 V337.29999999999995 M462.4,335.9 H464.6" stroke="#c8213e" stroke-width="1.2"/><path d="M465.5,334.5 V337.29999999999995 M464.4,335.9 H466.6" stroke="#c8213e" stroke-width="1.2"/><path d="M468,343.1 V345.9 M466.9,344.5 H469.1" stroke="#c8213e" stroke-width="1.2"/><path d="M473.3,343.1 V345.9 M472.2,344.5 H474.40000000000003" stroke="#c8213e" stroke-width="1.2"/><path d="M475.3,343.1 V345.9 M474.2,344.5 H476.40000000000003" stroke="#c8213e" stroke-width="1.2"/><path d="M481.6,343.1 V345.9 M480.5,344.5 H482.70000000000005" stroke="#c8213e" stroke-width="1.2"/><path d="M488.3,343.1 V345.9 M487.2,344.5 H489.40000000000003" stroke="#c8213e" stroke-width="1.2"/><path d="M494,343.1 V345.9 M492.9,344.5 H495.1" stroke="#c8213e" stroke-width="1.2"/><path d="M500.5,343.1 V345.9 M499.4,344.5 H501.6" stroke="#c8213e" stroke-width="1.2"/><path d="M511.4,343.1 V345.9 M510.29999999999995,344.5 H512.5" stroke="#c8213e" stroke-width="1.2"/><text x="303.1" y="491.5" font-size="6.85" fill="#1e1e1e" stroke="#1e1e1e" stroke-width="0.1">Number at risk</text><path d="M303.5,495.5 H512.8 V521.1 H303.5 Z" fill="none" stroke="#1e1e1e" stroke-width="1.05"/><text x="298.1" y="505.8" font-size="6.9" fill="#2a68a6" text-anchor="middle" stroke="#2a68a6" stroke-width="0.12">1</text><text x="298.1" y="516.3" font-size="6.9" fill="#d02a40" text-anchor="middle" stroke="#d02a40" stroke-width="0.12">2</text><text x="312.50" y="505.8" font-size="6.9" fill="#2a68a6" text-anchor="middle" stroke="#2a68a6" stroke-width="0.12">71</text><text x="312.50" y="516.3" font-size="6.9" fill="#d02a40" text-anchor="middle" stroke="#d02a40" stroke-width="0.12">29</text><text x="350.65" y="505.8" font-size="6.9" fill="#2a68a6" text-anchor="middle" stroke="#2a68a6" stroke-width="0.12">69</text><text x="350.65" y="516.3" font-size="6.9" fill="#d02a40" text-anchor="middle" stroke="#d02a40" stroke-width="0.12">27</text><text x="388.80" y="505.8" font-size="6.9" fill="#2a68a6" text-anchor="middle" stroke="#2a68a6" stroke-width="0.12">68</text><text x="388.80" y="516.3" font-size="6.9" fill="#d02a40" text-anchor="middle" stroke="#d02a40" stroke-width="0.12">27</text><text x="426.95" y="505.8" font-size="6.9" fill="#2a68a6" text-anchor="middle" stroke="#2a68a6" stroke-width="0.12">67</text><text x="426.95" y="516.3" font-size="6.9" fill="#d02a40" text-anchor="middle" stroke="#d02a40" stroke-width="0.12">24</text><text x="465.10" y="505.8" font-size="6.9" fill="#2a68a6" text-anchor="middle" stroke="#2a68a6" stroke-width="0.12">42</text><text x="465.10" y="516.3" font-size="6.9" fill="#d02a40" text-anchor="middle" stroke="#d02a40" stroke-width="0.12">16</text><text x="503.25" y="505.8" font-size="6.9" fill="#2a68a6" text-anchor="middle" stroke="#2a68a6" stroke-width="0.12">4</text><text x="503.25" y="516.3" font-size="6.9" fill="#d02a40" text-anchor="middle" stroke="#d02a40" stroke-width="0.12">1</text><path d="M213.8,572 H366.8 M162.8,587 H366.8 M162.8,602.3 H366.8" stroke="#6b9ad2" stroke-width="1.25"/><text x="288.3" y="568.8" font-size="6.9" fill="#333" text-anchor="end" stroke="#333" stroke-width="0.12">MRD<tspan dy="-2.6" font-size="4.3">+</tspan></text><text x="362.5" y="568.8" font-size="6.9" fill="#333" text-anchor="end" stroke="#333" stroke-width="0.12">MRD<tspan dy="-2.6" font-size="4.3">−</tspan></text><text x="168.8" y="583.2" font-size="7" fill="#1f5b93" stroke="#1f5b93" stroke-width="0.12">1: Low-risk</text><text x="168.5" y="597.5" font-size="7" fill="#c8213e" stroke="#c8213e" stroke-width="0.12">2: High-risk</text><text x="288.4" y="583" font-size="7.2" fill="#1f5b93" text-anchor="end" stroke="#1f5b93" stroke-width="0.12" textLength="8.9" lengthAdjust="spacingAndGlyphs">42</text><text x="364.3" y="583" font-size="7.2" fill="#1f5b93" text-anchor="end" stroke="#1f5b93" stroke-width="0.12" textLength="8.9" lengthAdjust="spacingAndGlyphs">29</text><text x="288.4" y="597.7" font-size="7.2" fill="#c8213e" text-anchor="end" stroke="#c8213e" stroke-width="0.12" textLength="8.9" lengthAdjust="spacingAndGlyphs">19</text><text x="364.3" y="597.7" font-size="7.2" fill="#c8213e" text-anchor="end" stroke="#c8213e" stroke-width="0.12" textLength="8.9" lengthAdjust="spacingAndGlyphs">10</text>
</svg>
<div id="frame"></div>
</div></body></html>
